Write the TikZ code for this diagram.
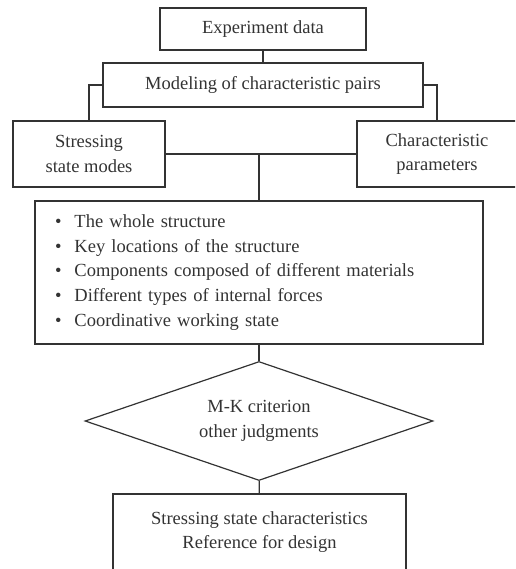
\documentclass[tikz,border=0pt]{standalone}
\usepackage{fontspec}
\setmainfont{Liberation Serif}
\usepackage{xcolor}
\usetikzlibrary{shapes.geometric}
\definecolor{inkgray}{HTML}{333333}

\begin{document}
\begin{tikzpicture}[x=1pt, y=-1pt]
    \tikzset{box/.style={draw=inkgray, line width=1.3pt, rectangle, align=center, inner sep=0pt, text=inkgray},
             decide/.style={draw=inkgray, line width=1.2pt, diamond, aspect=2.92, align=center, inner sep=0pt, text=inkgray},
             link/.style={draw=inkgray, line width=1.2pt}}
    \useasboundingbox (0,0) rectangle (515,569);
    \clip (0,0) rectangle (515,569);
    \fontsize{18.5}{24.7}\selectfont

    \node[box, minimum width=206, minimum height=42] (exp) at (263,29) {Experiment data};
    \node[box, minimum width=320, minimum height=44] (model) at (263,85) {Modeling of characteristic pairs};
    \node[box, minimum width=152, minimum height=66] (stress) at (89,154) {Stressing\\state modes};
    \node[box, minimum width=160, minimum height=66] (charp) at (437,154) {Characteristic\\parameters};
    \node[box, minimum width=448, minimum height=143, text width=408, align=left, inner xsep=20pt] (list) at (259,272.5)
        {\textbullet\hspace{13pt}The whole structure\\
         \textbullet\hspace{13pt}Key locations of the structure\\
         \textbullet\hspace{13pt}Components composed of different materials\\
         \textbullet\hspace{13pt}Different types of internal forces\\
         \textbullet\hspace{13pt}Coordinative working state};
    \node[decide, minimum width=348, minimum height=119] (crit) at (259,421) {M-K criterion\\other judgments};
    \node[box, minimum width=293, minimum height=76] (result) at (259.5,532) {Stressing state characteristics\\Reference for design};

    \coordinate (jn) at (stress.east -| list.north);

    \draw[link] (exp) -- (model);
    \draw[link] (model.west) -| (stress.north);
    \draw[link] (model.east) -| (charp.north);
    \draw[link] (stress) -- (charp);
    \draw[link] (jn) -- (list);
    \draw[link] (list) -- (crit);
    \draw[link] (crit) -- (result);
\end{tikzpicture}
\end{document}
